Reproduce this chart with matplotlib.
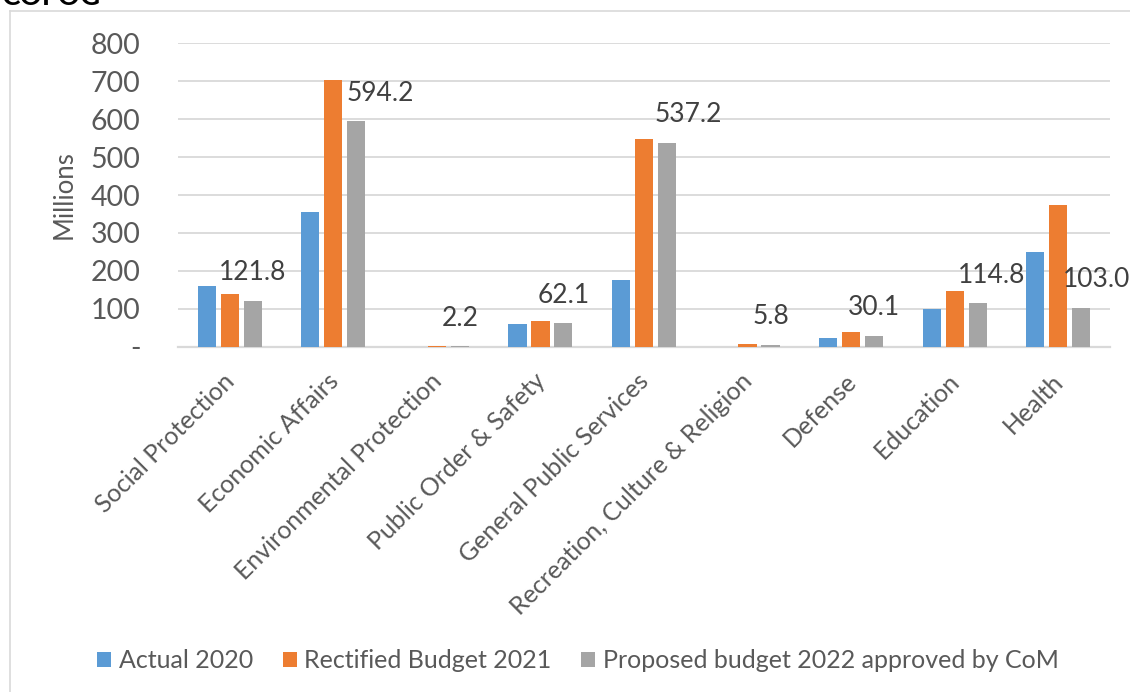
import matplotlib
matplotlib.use("Agg")
import matplotlib.pyplot as plt
import matplotlib.transforms as mtransforms
from matplotlib.lines import Line2D
import numpy as np

plt.rcParams['font.family'] = ['Lato', 'DejaVu Sans']

categories = ["Social Protection", "Economic Affairs", "Environmental Protection",
              "Public Order & Safety", "General Public Services",
              "Recreation, Culture & Religion", "Defense", "Education", "Health"]
series_names = ["Actual 2020", "Rectified Budget 2021",
                "Proposed budget 2022 approved by CoM"]
actual_2020 = [161, 356, 0.3, 60, 177, 0.5, 23, 100, 251]
rectified_2021 = [139, 703, 1.5, 69, 547, 8, 39, 147, 373]
proposed_2022 = [121.8, 594.2, 2.2, 62.1, 537.2, 5.8, 30.1, 114.8, 103.0]
yticks = [0, 100, 200, 300, 400, 500, 600, 700, 800]
ytick_labels = ["-", "100", "200", "300", "400", "500", "600", "700", "800"]

colors = ["#5B9BD5", "#ED7D31", "#A5A5A5"]
text_color = "#595959"
grid_color = "#D9D9D9"

# horizontal nudges (pixels) for the value labels on the 2022 series
label_dx = [0, 24, 0, 0, 21, 0, 0, 14, 15]

W, H = 1130, 692
fig = plt.figure(figsize=(W / 100, H / 100), dpi=100)
fig.patch.set_facecolor("white")
ax = fig.add_axes([178 / W, 1 - 347 / H, (1110 - 178) / W, (347 - 43) / H])

x = np.arange(len(categories))
pitch = 0.222
width = 0.175
all_series = [actual_2020, rectified_2021, proposed_2022]
handles = []
for i, (vals, col, name) in enumerate(zip(all_series, colors, series_names)):
    b = ax.bar(x + (i - 1) * pitch, vals, width=width, color=col, label=name,
               zorder=3)
    handles.append(b)

for xi, v, dx in zip(x, proposed_2022, label_dx):
    ax.annotate(f"{v:.1f}", xy=(xi + pitch, v), xytext=(dx, 28),
                textcoords="offset pixels", ha="center", va="center",
                fontsize=19, color="#404040", zorder=4)

ax.set_xlim(-0.5, len(categories) - 0.5)
ax.set_ylim(0, 800)
ax.set_yticks(yticks)
ax.set_yticklabels(ytick_labels)
ax.yaxis.grid(True, color=grid_color, linewidth=1.3, zorder=0)
ax.set_axisbelow(True)
for s in ["top", "right", "left"]:
    ax.spines[s].set_visible(False)
ax.spines["bottom"].set_color(grid_color)
ax.spines["bottom"].set_linewidth(1.6)
ax.tick_params(axis="y", length=0, pad=27, labelsize=20.5, labelcolor=text_color)
ax.tick_params(axis="x", length=0, pad=16, labelsize=18, labelcolor=text_color)
ax.set_xticks(x)
ax.set_xticklabels(categories, rotation=45, ha="right", rotation_mode="anchor")
shift = mtransforms.ScaledTranslation(-7 / 100, 0, fig.dpi_scale_trans)
for lbl in ax.get_xticklabels():
    lbl.set_transform(lbl.get_transform() + shift)

ax.set_ylabel("Millions", fontsize=18.5, color=text_color, labelpad=10)

leg = fig.legend(handles=handles, labels=series_names, loc="center",
                 bbox_to_anchor=(578 / W, 1 - 661 / H), ncol=3, frameon=False,
                 fontsize=18, handlelength=0.55, handleheight=0.55,
                 handletextpad=0.3, columnspacing=1.2, labelcolor=text_color)

# chart area frame
fx = 9.5 / W
fy = 1 - 10.5 / H
fig.add_artist(Line2D([fx, fx], [0, fy], transform=fig.transFigure,
                      color=grid_color, linewidth=1.2))
fig.add_artist(Line2D([fx, 1], [fy, fy], transform=fig.transFigure,
                      color=grid_color, linewidth=1.2))

# heading above the chart area
fig.text(2 / W, 1 - 5 / H, "COFOG", fontsize=20, fontweight="bold",
         color="black", ha="left", va="baseline")

fig.savefig("out.png", dpi=100, facecolor="white")
